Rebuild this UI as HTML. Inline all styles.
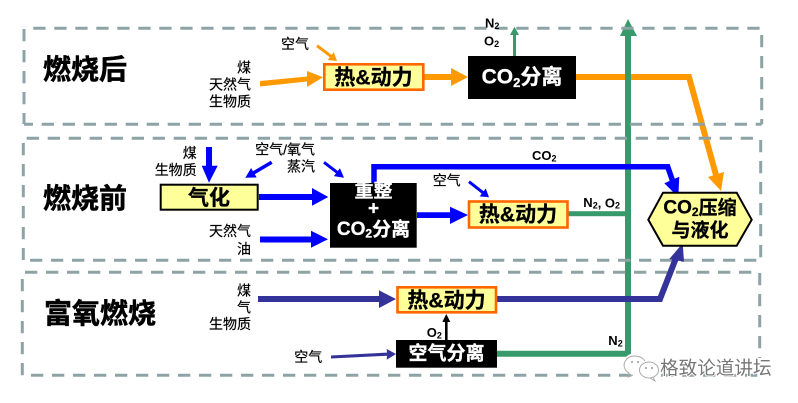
<!DOCTYPE html>
<html><head><meta charset="utf-8"><style>
html,body{margin:0;padding:0;background:#fff;width:798px;height:403px;overflow:hidden}
svg{display:block}
text{font-family:"Liberation Sans","Noto Sans CJK SC",sans-serif;fill:#000;dominant-baseline:central}
.h{font-size:28px;font-weight:700;stroke:#000;stroke-width:.5px}
.s{font-size:14px;stroke:#000;stroke-width:.2px}
.r{text-anchor:end}
.b{font-size:21px;font-weight:700;text-anchor:middle;stroke:#000;stroke-width:.3px}
.b2{font-size:19px;font-weight:700;text-anchor:middle;stroke:#000;stroke-width:.3px}
.w{fill:#fff;stroke:#fff}
.l{font-size:13px;font-weight:700}
.d{stroke:#8da3a5;stroke-width:3;stroke-dasharray:12.3 8.7;fill:none}
</style></head><body>
<svg width="798" height="403" viewBox="0 0 798 403" xmlns="http://www.w3.org/2000/svg">
<!-- orange connectors -->
<g fill="#ff9900" stroke="none">
<polygon points="260,81 307,76.5 307,71 323,77.3 307,87 307,81.5 260,86.5"/>
<polygon points="316.1,46.9 317.9,44.5 331.6,54.9 333.75,52.15 337,61 327.65,60.05 329.8,57.3"/>
<polygon points="424,74 451,74 451,68 468,77 451,86 451,80 424,80"/>
<polygon points="708,177 724,172 721,191"/>
</g>
<polyline points="576,77 689,77 716,175" fill="none" stroke="#ff9900" stroke-width="6"/>
<!-- green connectors -->
<g fill="#389a6a">
<rect x="513" y="34" width="3" height="23"/>
<polygon points="514.5,26.7 519,35 510,35"/>
<polygon points="628,19 637,36 620,36"/>
</g>
<polyline points="497,353.7 628,353.7 628,34" fill="none" stroke="#389a6a" stroke-width="6"/>
<rect x="568" y="211.2" width="60" height="5" fill="#389a6a"/>
<!-- dashed panels -->
<path class="d" d="M33.3,28.3H761"/><path class="d" d="M24,29V124"/><path class="d" d="M24,124.3H761.7" stroke-dashoffset="3.3"/><path class="d" d="M761.7,35V124.3"/>
<path class="d" d="M26.7,138.3H760"/><path class="d" d="M23.3,143V260"/><path class="d" d="M30,260.3H760.7"/><path class="d" d="M760.7,140V260.3"/>
<path class="d" d="M25,272.3H759"/><path class="d" d="M22.3,279V375.5"/><path class="d" d="M31,375.3H759.7"/><path class="d" d="M759.7,273V358"/>
<!-- blue connectors -->
<g fill="#0000ff">
<polygon points="206,147 212,147 212,165.7 217.7,165.7 209,182.7 201.7,165.7 206,165.7"/>
<polygon points="272.6,163.8 270.8,160.8 253,171.2 251.1,167.95 245.3,177.7 256.7,177.45 254.8,174.2"/>
<polygon points="323.1,163.5 324.9,161.1 337.8,171 339.95,168.25 344,177.7 333.85,176.15 336,173.4"/>
<polygon points="259,194 312,194 312,188 328.3,197 312,205.7 312,200 259,200"/>
<polygon points="260,236.5 311,236.5 311,230.7 328,239.3 311,247.7 311,242.5 260,242.5"/>
<polygon points="417,212.2 450,212.2 450,206.7 468,215 450,224 450,218 417,218"/>
<polygon points="664.3,183.3 679.3,176.7 678.3,197.3"/>
<polygon points="468.1,182.9 469.9,180.5 483.6,191.2 485.75,188.45 489,197.3 479.65,196.35 481.8,193.6"/>
</g>
<polyline points="374,184 374,166.7 667.7,166.7 673,182" fill="none" stroke="#0000ff" stroke-width="5.5"/>
<!-- navy connectors -->
<g fill="#333399">
<polygon points="258,296 379,296 379,290.3 396,299 379,308 379,302 258,302"/>
<polygon points="331,355.5 387,352.6 386.7,349 396,354 386.7,359.7 387,355.8 331,358.5"/>
<polygon points="669.3,259 684,261.7 682.7,243.3"/>
</g>
<polyline points="497,299 660,299 676,258" fill="none" stroke="#333399" stroke-width="6"/>
<!-- black O2 arrow -->
<rect x="445" y="321" width="2.6" height="19" fill="#000"/>
<polygon points="446.3,314 450.3,322 442.3,322" fill="#000"/>
<!-- nodes -->
<g fill="#ffff99" stroke="#ff6600" stroke-width="2.6">
<rect x="324.3" y="64.3" width="99" height="25.4"/>
<rect x="469" y="201.5" width="98.5" height="26"/>
<rect x="397.5" y="287.3" width="98.5" height="25"/>
</g>
<rect x="160.7" y="184.7" width="97" height="25" fill="#ffff99" stroke="#000" stroke-width="2"/>
<polygon points="648.3,219.7 663,192.7 736.7,192.7 751.7,219.7 736.7,245.7 663,245.7" fill="#ffff99" stroke="#000" stroke-width="2"/>
<rect x="468" y="56" width="108" height="43" fill="#000"/>
<rect x="330" y="183" width="86.7" height="64.7" fill="#000"/>
<rect x="396" y="340" width="101" height="27.7" fill="#000"/>
<!-- headings -->
<text class="h" x="43" y="69.3">燃烧后</text>
<text class="h" x="43" y="198.3">燃烧前</text>
<text class="h" x="44" y="313.7">富氧燃烧</text>
<!-- node labels -->
<text class="b" x="373.5" y="78">热&amp;动力</text>
<text class="b" x="518" y="215">热&amp;动力</text>
<text class="b" x="446.5" y="301">热&amp;动力</text>
<text class="b" x="209" y="198.5">气化</text>
<text class="b w" x="522" y="77">CO<tspan font-size="13" dy="5">2</tspan><tspan dy="-5">分离</tspan></text>
<text class="b2 w" x="373.5" y="191.7">重整</text>
<text class="b2 w" x="373.5" y="209">+</text>
<text class="b2 w" x="373.5" y="229.3">CO<tspan font-size="12" dy="4">2</tspan><tspan dy="-4">分离</tspan></text>
<text class="b2 w" x="446.5" y="354">空气分离</text>
<text class="b2" x="700" y="208">CO<tspan font-size="12" dy="4">2</tspan><tspan dy="-4">压缩</tspan></text>
<text class="b2" x="700" y="231">与液化</text>
<!-- small labels -->
<text class="s" x="281" y="44">空气</text>
<text class="s r" x="251" y="67.7">煤</text>
<text class="s r" x="251" y="84.3">天然气</text>
<text class="s r" x="251" y="101.3">生物质</text>
<text class="s r" x="196.7" y="153">煤</text>
<text class="s r" x="196.7" y="170">生物质</text>
<text class="s r" x="315" y="149.3">空气/氧气</text>
<text class="s r" x="315" y="166.7">蒸汽</text>
<text class="s r" x="251" y="231">天然气</text>
<text class="s r" x="251" y="249">油</text>
<text class="s" x="432.7" y="180.3">空气</text>
<text class="s r" x="251" y="290.7">煤</text>
<text class="s r" x="251" y="307.3">气</text>
<text class="s r" x="251" y="324">生物质</text>
<text class="s" x="294.3" y="357">空气</text>
<!-- gas labels -->
<text class="l" x="485" y="23">N<tspan font-size="9" dy="3">2</tspan></text>
<text class="l" x="484" y="41">O<tspan font-size="9" dy="3">2</tspan></text>
<text class="l" x="532" y="155.7">CO<tspan font-size="9" dy="3">2</tspan></text>
<text class="l" x="583.3" y="202.7">N<tspan font-size="9" dy="3">2</tspan><tspan dy="-3">, O</tspan><tspan font-size="9" dy="3">2</tspan></text>
<text class="l" x="426.7" y="332.3">O<tspan font-size="9" dy="3">2</tspan></text>
<text class="l" x="608.3" y="340.3">N<tspan font-size="9" dy="3">2</tspan></text>
<!-- watermark -->
<g stroke="#fff" stroke-width="2" fill="#fff">
<ellipse cx="636" cy="364" rx="12" ry="10"/>
<ellipse cx="648" cy="371" rx="10" ry="8.5"/>
</g>
<g fill="none" stroke="#aaa" stroke-width="1">
<path d="M645,361 C641,355 630,354 626,360 C622,365 625,371 629,373 L628,377 L633,375"/>
<ellipse cx="649" cy="370" rx="9.5" ry="8"/>
<path d="M653,377 L655,381 L650,378"/>
</g>
<circle cx="632" cy="362" r="1" fill="#999"/><circle cx="638" cy="362" r="1" fill="#999"/>
<circle cx="646" cy="368" r="1" fill="#999"/><circle cx="652" cy="368" r="1" fill="#999"/>
<text x="660" y="368" font-size="18.6" style="fill:#777;stroke:#fff;stroke-width:2px;paint-order:stroke">格致论道讲坛</text>
</svg>
</body></html>
